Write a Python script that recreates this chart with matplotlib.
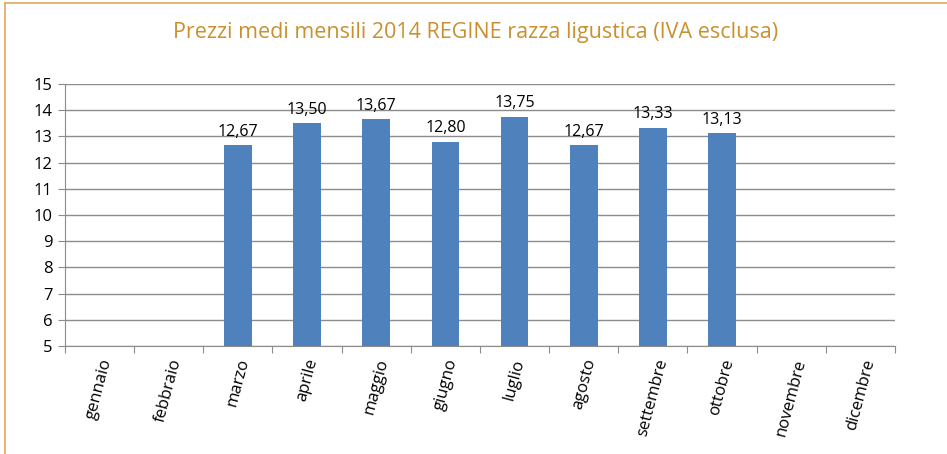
import matplotlib
matplotlib.use("Agg")
from matplotlib import pyplot as plt
from matplotlib.lines import Line2D
import numpy as np

plt.rcParams['font.family'] = ['Open Sans', 'DejaVu Sans']

months = ["gennaio", "febbraio", "marzo", "aprile", "maggio", "giugno",
          "luglio", "agosto", "settembre", "ottobre", "novembre", "dicembre"]
prices = [np.nan, np.nan, 12.67, 13.50, 13.67, 12.80, 13.75, 12.67, 13.33, 13.13, np.nan, np.nan]

fig = plt.figure(figsize=(9.47, 4.54), dpi=100)
ax = fig.add_axes([0.0686, 0.238, 0.8765, 0.577])

x = np.arange(len(months))
rects = ax.bar(x, prices, width=0.4, color="#4F81BD", bottom=0, zorder=3)
for xi, v in zip(x, prices):
    if not np.isnan(v):
        ax.text(xi, v + 0.2, f"{v:.2f}".replace(".", ","), ha="center", va="bottom",
                fontsize=11.5, color="#000000")

ax.set_ylim(5, 15)
ax.set_xlim(-0.5, 11.5)
ax.set_yticks(range(5, 16))
ax.yaxis.grid(True, color="#8C8C8C", linewidth=1.0, zorder=0)
ax.set_xticks(np.arange(-0.5, 12, 1.0))
ax.set_xticklabels([])
ax.set_xticks(x, minor=True)
ax.set_xticklabels(months, minor=True, rotation=75, fontsize=12)
ax.tick_params(axis="x", which="minor", length=0, pad=8)
ax.tick_params(axis="x", which="major", length=5, color="#8C8C8C", direction="out")
ax.tick_params(axis="y", length=5, color="#8C8C8C", labelsize=12, pad=4)
for s in ["top", "right"]:
    ax.spines[s].set_visible(False)
for s in ["left", "bottom"]:
    ax.spines[s].set_color("#8C8C8C")

fig.text(0.502, 0.928, "Prezzi medi mensili 2014 REGINE razza ligustica (IVA esclusa)",
         ha="center", va="center", fontsize=15.5, color="#C8912E")

frame = "#E0A85A"
fig.add_artist(Line2D([5 / 947, 5 / 947], [0, 1 - 3 / 454], color=frame, linewidth=1.2))
fig.add_artist(Line2D([5 / 947, 1], [1 - 3 / 454, 1 - 3 / 454], color=frame, linewidth=1.2))

fig.savefig("out.png", dpi=100)
